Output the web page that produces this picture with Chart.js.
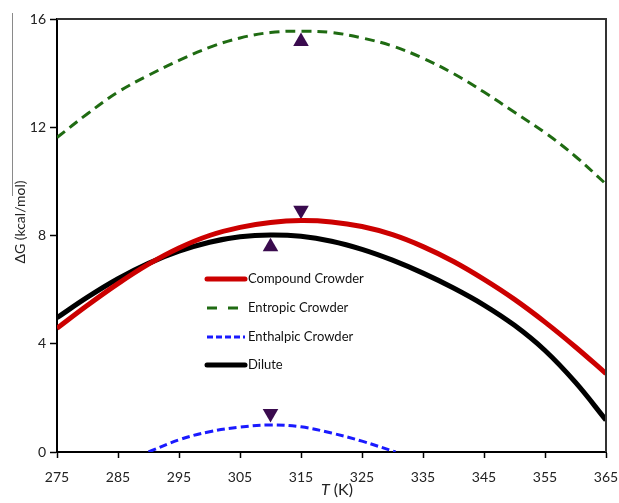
<!DOCTYPE html>
<html>
<head>
<meta charset="utf-8">
<script src="https://cdn.jsdelivr.net/npm/chart.js@4.4.0/dist/chart.umd.min.js"></script>
<style>
html,body{margin:0;padding:0;background:#fff;}
#wrap{width:619px;height:503px;position:relative;}
</style>
</head>
<body>
<div id="wrap"><canvas id="c" width="619" height="503"></canvas></div>
<script>
// ---- data ----
const temps = [275,280,285,290,295,300,305,310,315,320,325,330,335,340,345,350,355,360,365];
const compoundCrowder = [4.57,5.42,6.22,6.94,7.54,8.0,8.3,8.48,8.55,8.5,8.33,8.03,7.59,7.04,6.38,5.64,4.8,3.88,2.9];
const entropicCrowder = [11.62,12.5,13.3,13.92,14.47,14.95,15.3,15.5,15.55,15.5,15.3,15.0,14.55,13.98,13.3,12.55,11.8,10.92,9.9];
const dilute = [4.96,5.72,6.4,6.97,7.42,7.75,7.95,8.02,7.97,7.79,7.49,7.09,6.61,6.06,5.43,4.68,3.75,2.57,1.18];
const enthalpicTemps = [290,295,300,305,310,315,320,325,330.5];
const enthalpicCrowder = [0,0.45,0.75,0.92,1.0,0.93,0.7,0.4,0];
const upMarkerT = [315,310];
const upMarkerG = [15.17,7.58];
const downMarkerT = [315,310];
const downMarkerG = [8.93,1.42];
const xTicks = [275,285,295,305,315,325,335,345,355,365];
const yTicks = [0,4,8,12,16];
const legendLabels = ['Compound Crowder','Entropic Crowder','Enthalpic Crowder','Dilute'];

const pts = (xs, ys) => xs.map((x,i)=>({x:x,y:ys[i]}));
const FONT = 'Lato, "Open Sans", sans-serif';
const RED='#cc0000', GREEN='#1f6b12', BLUE='#1a1aff', BLACK='#000000', PURPLE='#3a0b4e';

const lineDs = (label, data, color, width, dash) => ({
  label, data, borderColor: color, backgroundColor: color, borderWidth: width,
  borderDash: dash, pointRadius: 0, fill: false, tension: 0.4,
  borderCapStyle: 'butt'
});

const extras = {
  id: 'extras',
  afterDraw(chart){
    const ctx = chart.ctx, a = chart.chartArea;
    ctx.save();
    // top and right borders
    ctx.strokeStyle = '#333'; ctx.lineWidth = 2;
    ctx.beginPath(); ctx.moveTo(a.left, a.top); ctx.lineTo(a.right, a.top); ctx.lineTo(a.right, a.bottom); ctx.stroke();
    // stray gray line at far left
    ctx.strokeStyle = '#8a8a8a'; ctx.lineWidth = 1;
    ctx.beginPath(); ctx.moveTo(12.5, 13); ctx.lineTo(12.5, 196); ctx.stroke();
    // y title
    ctx.fillStyle = '#222';
    ctx.font = '14px ' + FONT;
    ctx.translate(20, 222); ctx.rotate(-Math.PI/2);
    ctx.textAlign = 'center'; ctx.textBaseline = 'middle';
    ctx.fillText('\u0394G (kcal/mol)', 0, 0);
    ctx.setTransform(1,0,0,1,0,0);
    // x title: italic T + " (K)"
    ctx.textBaseline = 'middle'; ctx.textAlign = 'left';
    ctx.font = 'italic 16px ' + FONT;
    const wT = ctx.measureText('T').width;
    ctx.font = '16px ' + FONT;
    const wK = ctx.measureText(' (K)').width;
    const x0 = 337 - (wT + wK)/2;
    ctx.font = 'italic 16px ' + FONT; ctx.fillText('T', x0, 490);
    ctx.font = '16px ' + FONT; ctx.fillText(' (K)', x0 + wT, 490);
    // legend
    const rows = [
      {y:279, color:RED, w:5, dash:[]},
      {y:308, color:GREEN, w:3, dash:[10,11]},
      {y:337, color:BLUE, w:3, dash:[6,3]},
      {y:365, color:BLACK, w:5, dash:[]}
    ];
    ctx.font = '13px ' + FONT; ctx.fillStyle = '#111';
    rows.forEach((r,i)=>{
      ctx.strokeStyle = r.color; ctx.lineWidth = r.w; ctx.setLineDash(r.dash);
      ctx.lineCap = r.dash.length ? 'butt' : 'round';
      ctx.beginPath(); ctx.moveTo(207, r.y); ctx.lineTo(245, r.y); ctx.stroke();
      ctx.setLineDash([]);
      ctx.fillText(legendLabels[i], 248, r.y);
    });
    ctx.restore();
  }
};

new Chart(document.getElementById('c'), {
  type: 'scatter',
  data: {
    datasets: [
      lineDs(legendLabels[0], pts(temps, compoundCrowder), RED, 5, []),
      lineDs(legendLabels[1], pts(temps, entropicCrowder), GREEN, 3, [10,6]),
      lineDs(legendLabels[2], pts(enthalpicTemps, enthalpicCrowder), BLUE, 3, [8,4]),
      lineDs(legendLabels[3], pts(temps, dilute), BLACK, 5, []),
      { label:'up', data: pts(upMarkerT, upMarkerG), showLine:false, pointStyle:'triangle',
        pointRadius:9, pointRotation:0, backgroundColor:PURPLE, borderColor:PURPLE, borderWidth:0 },
      { label:'down', data: pts(downMarkerT, downMarkerG), showLine:false, pointStyle:'triangle',
        pointRadius:9, pointRotation:180, backgroundColor:PURPLE, borderColor:PURPLE, borderWidth:0 }
    ]
  },
  options: {
    responsive: false, animation: false,
    datasets: { scatter: { showLine: true } },
    layout: { padding: { top: 19, right: 13, left: 0, bottom: 0 } },
    plugins: { legend: { display: false }, tooltip: { enabled: false } },
    scales: {
      x: {
        type: 'linear', min: 275, max: 365,
        afterBuildTicks: s => { s.ticks = xTicks.map(v => ({value: v})); },
        afterFit: s => { s.height = 51; s.paddingLeft = 0; s.paddingRight = 0; },
        grid: { drawOnChartArea: false, drawTicks: true, tickLength: 6, color: '#000', tickWidth: 1.5 },
        border: { color: '#000', width: 2 },
        ticks: { color: '#222', font: { family: FONT, size: 14 }, padding: 11, maxRotation: 0, autoSkip: false }
      },
      y: {
        min: 0, max: 16,
        afterBuildTicks: s => { s.ticks = yTicks.map(v => ({value: v})); },
        afterFit: s => { s.width = 57; s.paddingTop = 0; s.paddingBottom = 0; },
        grid: { drawOnChartArea: false, drawTicks: true, tickLength: 7, color: '#000', tickWidth: 1.5 },
        border: { color: '#000', width: 2 },
        ticks: { color: '#222', font: { family: FONT, size: 14 }, padding: 4, autoSkip: false }
      }
    }
  },
  plugins: [extras]
});
</script>
</body>
</html>
